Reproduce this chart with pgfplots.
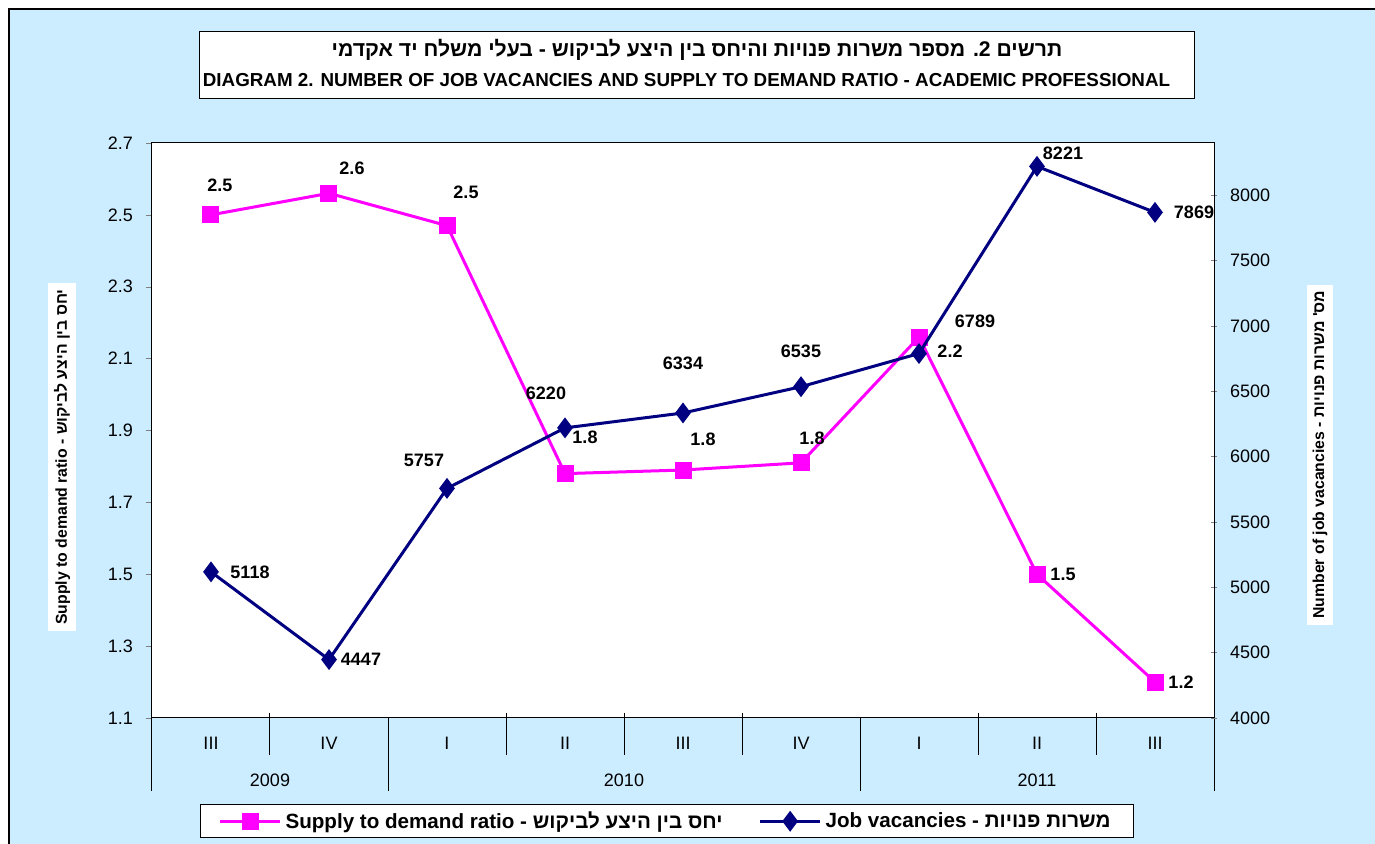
\documentclass[border=0pt]{standalone}
\usepackage{fontspec}
\setmainfont{Liberation Sans}
\newfontfamily\hebfont[Script=Hebrew]{Liberation Sans}
\TeXXeTstate=1
\usepackage{pgfplots}
\usepackage{pgfplotstable}
\pgfplotsset{compat=1.18}

\definecolor{bgblue}{RGB}{204,236,255}
\definecolor{mag}{RGB}{255,0,255}
\definecolor{navyblue}{RGB}{0,0,128}

% supply to demand ratio
\pgfplotstableread{
x y lab dx dy
1 2.50 2.5 4.5 15
2 2.56 2.6 11.5 12.5
3 2.47 2.5 9.5 16.5
4 1.78 1.8 10 18
5 1.79 1.8 10 15.5
6 1.81 1.8 5.5 12.5
7 2.16 2.2 15.5 -7
8 1.50 1.5 13 0
9 1.20 1.2 13 0
}\ratiodata

% job vacancies
\pgfplotstableread{
x y lab dx dy
1 5118 5118 19.5 0
2 4447 4447 16 0
3 5757 5757 -11.5 14
4 6220 6220 -9.5 17.5
5 6334 6334 0 25
6 6535 6535 0 17.5
7 6789 6789 28 16
8 8221 8221 13 6.5
9 7869 7869 19.5 0
}\vacdata

\newcommand\tickfont{\fontsize{9}{10}\selectfont}
\newcommand\lblfont{\bfseries\fontsize{9}{10}\selectfont}
\newcommand\shortsep[1]{\draw[line width=0.5pt] ([yshift=2.5pt]axis cs:#1,1.1) -- ([yshift=-18.5pt]axis cs:#1,1.1);}
\newcommand\longsep[1]{\draw[line width=0.5pt] (axis cs:#1,1.1) -- ([yshift=-36.5pt]axis cs:#1,1.1);}

\pgfplotsset{
  common/.style={
    scale only axis, width=531pt, height=287.5pt,
    xmin=0.5, xmax=9.5,
    clip=false,
    /pgf/number format/assume math mode=true,
    tick label style={font=\tickfont},
    major tick length=3pt,
    axis line style={line width=0.5pt},
  },
  ptlabels/.style={
    nodes near coords,
    point meta=explicit symbolic,
    visualization depends on={\thisrow{dx}\as\lbldx},
    visualization depends on={\thisrow{dy}\as\lbldy},
    every node near coord/.append style={anchor=center, xshift={\lbldx*1pt}, yshift={\lbldy*1pt}, font=\lblfont, text=black},
  },
}

\begin{document}
\begin{tikzpicture}
\begin{scope}[shift={(-76pt,359pt)}, x=0.5pt, y=-0.5pt]
  \useasboundingbox (0,0) rectangle (1375,844);
  \fill[white] (0,0) rectangle (1375,844);
  \fill[bgblue] (9,9) rectangle (1375,844);
  \draw[line width=1pt] (9,844) -- (9,9) -- (1375,9);
  \draw[fill=white, line width=0.5pt] (199,32) rectangle (1194,99);
  \node[font=\bfseries\fontsize{10.6}{12}\selectfont] at (697,50)
    {\hebfont\beginR תרשים 2. מספר משרות פנויות והיחס בין היצע לביקוש - בעלי משלח יד אקדמי\endR};
  \node[font=\bfseries\fontsize{9.4}{11}\selectfont] at (686.5,80)
    {DIAGRAM 2. NUMBER OF JOB VACANCIES AND SUPPLY TO DEMAND RATIO - ACADEMIC PROFESSIONAL};
  \draw[fill=white, line width=0.5pt] (200,805) rectangle (1133,838);
\end{scope}

\begin{axis}[common,
  ymin=1.1, ymax=2.7,
  axis background/.style={fill=white},
  xtick={1,...,9},
  xticklabels={III,IV,I,II,III,IV,I,II,III},
  xtick style={draw=none},
  xticklabel style={yshift=-3pt},
  ytick={1.1,1.3,1.5,1.7,1.9,2.1,2.3,2.5,2.7},
  yticklabel style={/pgf/number format/.cd, fixed, fixed zerofill, precision=1},
  ytick pos=left, tick align=outside,
  yticklabel shift=3pt,
  ylabel={Supply to demand ratio - {\hebfont\beginR יחס בין היצע לביקוש\endR}},
  every axis y label/.style={at={(axis description cs:-0.0847,0.454)}, rotate=90, anchor=center,
    fill=white, inner sep=3pt, font=\bfseries\fontsize{7.9}{9}\selectfont},
]
\addplot[mag, line width=1.5pt, mark=square*, mark size=3.5pt, ptlabels]
  table[x=x, y=y, meta=lab] {\ratiodata};
% category separators
\shortsep{1.5}\shortsep{3.5}\shortsep{4.5}\shortsep{5.5}\shortsep{7.5}\shortsep{8.5}
\longsep{0.5}\longsep{2.5}\longsep{6.5}\longsep{9.5}
\node[font=\tickfont] at ([yshift=-31pt]axis cs:1.5,1.1) {2009};
\node[font=\tickfont] at ([yshift=-31pt]axis cs:4.5,1.1) {2010};
\node[font=\tickfont] at ([yshift=-31pt]axis cs:8,1.1) {2011};
\end{axis}

\begin{axis}[common,
  ymin=4000, ymax=8400,
  axis x line=none, axis y line*=right,
  ytick={4000,4500,...,8000},
  yticklabel style={/pgf/number format/1000 sep={}},
  tick align=center,
  yticklabel shift=3pt,
  ylabel={Number of job vacancies - {\hebfont\beginR מס' משרות פנויות\endR}},
  every axis y label/.style={at={(axis description cs:1.0998,0.458)}, rotate=90, anchor=center,
    fill=white, inner sep=3pt, font=\bfseries\fontsize{7.9}{9}\selectfont},
  legend columns=2,
  legend style={at={(0.4845,-0.1513)}, anchor=north, draw=none, fill=none,
    font=\bfseries\fontsize{10.3}{11}\selectfont, inner sep=1pt,
    /tikz/every even column/.append style={column sep=16pt}},
  legend image code/.code={\draw[mark repeat=2, mark phase=2] plot coordinates {(0pt,0pt) (15pt,0pt) (30pt,0pt)};},
]
\addlegendimage{mag, line width=1.5pt, mark=square*, mark size=3.5pt}
\addlegendentry{Supply to demand ratio - {\hebfont\beginR יחס בין היצע לביקוש\endR}}
\addlegendimage{navyblue, line width=1.5pt, mark=diamond*, mark size=4pt}
\addlegendentry{Job vacancies - {\hebfont\beginR משרות פנויות\endR}}
\addplot[navyblue, line width=1.5pt, mark=diamond*, mark size=4pt, ptlabels, forget plot]
  table[x=x, y=y, meta=lab] {\vacdata};
\end{axis}
\end{tikzpicture}
\end{document}
